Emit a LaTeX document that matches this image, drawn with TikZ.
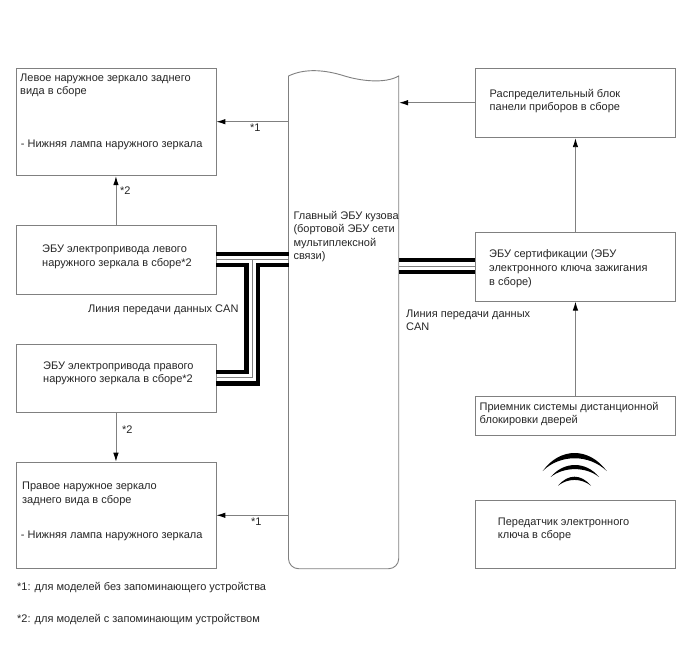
\documentclass[tikz,border=0pt]{standalone}
\usepackage{fontspec}
\setmainfont{Liberation Sans}
\usetikzlibrary{arrows.meta}
\definecolor{edge}{gray}{0.5}
\tikzset{
  x=1pt, y=-1pt,
  unit/.style={draw=edge, line width=0.9pt, rectangle, inner sep=0pt, anchor=north west},
  txt/.style={anchor=north west, inner sep=0pt, align=left, font=\fontsize{11}{13.3}\selectfont, text=black!85,
    yshift=-1.8pt, execute at begin node={\rule{0pt}{10pt}}},
  link/.style={draw=edge, line width=0.9pt, -{Latex[length=9pt,width=5.5pt,black]}},
  heavy/.style={draw=black, line width=4.2pt},
  thin bus/.style={draw=edge, line width=0.9pt},
  wave/.style={fill=black, draw=none}
}
\newcommand{\unitbox}[5]{\node[unit, minimum width=#4pt, minimum height=#5pt] (#1) at (#2,#3) {};}
\begin{document}
\begin{tikzpicture}
\useasboundingbox (0,0) rectangle (688,658);
\fill[white] (0,0) rectangle (688,658);

% Control units and mirror assemblies
\unitbox{leftmirror}{15.5}{68.5}{200}{106.8}
\unitbox{leftecu}{15.5}{225}{200}{68.7}
\unitbox{rightecu}{15.5}{343.5}{200}{68.8}
\unitbox{rightmirror}{15.5}{461.7}{200}{106.6}
\unitbox{junction}{475}{68.5}{200}{68.8}
\unitbox{cert}{475}{232.3}{200}{68.4}
\unitbox{receiver}{475}{396}{200}{39}
\unitbox{transmitter}{475}{500}{200}{68.3}

% Body ECU: wavy top edge, rounded bottom corners
\node[inner sep=0pt, minimum width=110.2pt, minimum height=492.7pt, anchor=north west] (body) at (288.5,76) {};
\draw[draw=edge, line width=0.9pt]
  (288.5,76) .. controls (305,68) and (325,70) .. (343,75.5)
  .. controls (360,81) and (385,84) .. (398.7,76)
  -- (398.7,558.7) .. controls (398.7,564.2) and (394.2,568.7) .. (388.7,568.7)
  -- (298.5,568.7) .. controls (293,568.7) and (288.5,564.2) .. (288.5,558.7) -- cycle;

% Labels inside the units
\node[txt] (t1) at (20,71.5) {Левое наружное зеркало заднего\\вида в сборе};
\node[txt] (t1b) at (20.7,135) {- Нижняя лампа наружного зеркала};
\node[txt] (t2) at (42,242.7) {ЭБУ электропривода левого\\[0.5pt]наружного зеркала в сборе*2};
\node[txt] (t3) at (43,360) {ЭБУ электропривода правого\\наружного зеркала в сборе*2};
\node[txt] (t4) at (22,480) {Правое наружное зеркало\\[0.5pt]заднего вида в сборе};
\node[txt] (t4b) at (20.7,526.7) {- Нижняя лампа наружного зеркала};
\node[txt] (t5) at (489.5,87.5) {Распределительный блок\\панели приборов в сборе};
\node[txt] (t6) at (489,247.5) {ЭБУ сертификации (ЭБУ\\[0.5pt]электронного ключа зажигания\\[0.5pt]в сборе)};
\node[txt] (t7) at (479.5,400) {Приемник системы дистанционной\\[0.5pt]блокировки дверей};
\node[txt] (t8) at (497.7,515.5) {Передатчик электронного\\ключа в сборе};
\node[txt] (t9) at (293.3,209) {Главный ЭБУ кузова\\[0.5pt](бортовой ЭБУ сети\\[0.5pt]мультиплексной\\[-1pt]связи)};

% Bus captions and footnotes
\node[txt] (can1) at (88,300.7) {Линия передачи данных CAN};
\node[txt] (can2) at (406,307.5) {Линия передачи данных\\CAN};
\node[txt] (n1) at (17,578.5) {*1: для моделей без запоминающего устройства};
\node[txt] (n2) at (17,610) {*2: для моделей с запоминающим устройством};

% Signal arrows
\draw[link] (body.west |- 0,121.7) -- (leftmirror.east |- 0,121.7);
\draw[link] (body.west |- 0,515.3) -- (rightmirror.east |- 0,515.3);
\draw[link] (junction.west |- 0,102.7) -- (body.east |- 0,102.7);
\draw[link] (leftecu.north) -- (leftmirror.south);
\draw[link] (rightecu.south) -- (rightmirror.north);
\draw[link] (cert.north) -- (junction.south);
\draw[link] (receiver.north) -- (cert.south);
\node[txt] (m1) at (250,119.5) {*1};
\node[txt] (m2) at (120,182.5) {*2};
\node[txt] (m3) at (122,421) {*2};
\node[txt] (m4) at (251,513.7) {*1};

% CAN bus, left side
\draw[heavy] (leftecu.east |- 0,253.7) -- (body.west |- 0,253.7);
\draw[thin bus] (leftecu.east |- 0,259.3) -- (body.west |- 0,259.3);
\draw[heavy] (leftecu.east |- 0,265.3) -- (246.5,265.3) -- (246.5,372) -- (rightecu.east |- 0,372);
\draw[thin bus] (252,259.3) -- (252,377.7) -- (rightecu.east |- 0,377.7);
\draw[heavy] (body.west |- 0,265.3) -- (258,265.3) -- (258,383.5) -- (rightecu.east |- 0,383.5);

% CAN bus, right side
\draw[heavy] (body.east |- 0,260) -- (cert.west |- 0,260);
\draw[thin bus] (body.east |- 0,266) -- (cert.west |- 0,266);
\draw[heavy] (body.east |- 0,272) -- (cert.west |- 0,272);

% Radio waves between transmitter and receiver
\fill[wave] (542.7,471) .. controls (560,447) and (589,447) .. (606.7,471) .. controls (589,454) and (560,454) .. cycle;
\fill[wave] (550.7,477) .. controls (564,461) and (586,461) .. (599,477) .. controls (586,466.5) and (564,466.5) .. cycle;
\fill[wave] (558,485.7) .. controls (568,473.7) and (581,473.7) .. (591,485.7) .. controls (581,478) and (568,478) .. cycle;
\end{tikzpicture}
\end{document}
